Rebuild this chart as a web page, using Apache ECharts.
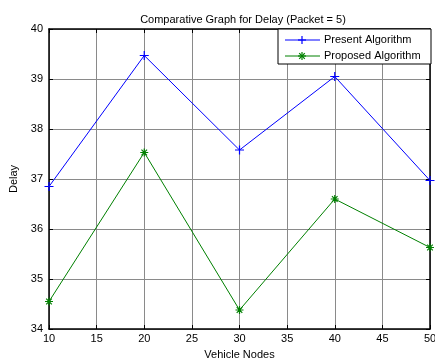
<!DOCTYPE html>
<html>
<head>
<meta charset="utf-8">
<script src="https://cdn.jsdelivr.net/npm/echarts@6/dist/echarts.min.js"></script>
<style>
html,body{margin:0;padding:0;background:#fff;}
#chart{width:435px;height:360px;}
</style>
</head>
<body>
<div id="chart"></div>
<script>
// Delay versus number of vehicle nodes, packet size 5
const vehicleNodes = [10, 20, 30, 40, 50];
const presentDelay = [36.85, 39.47, 37.58, 39.05, 36.97];
const proposedDelay = [34.55, 37.53, 34.38, 36.6, 35.63];
const xTicks = [10, 15, 20, 25, 30, 35, 40, 45, 50];
const yTicks = [34, 35, 36, 37, 38, 39, 40];
const seriesNames = ['Present Algorithm', 'Proposed Algorithm'];
const seriesColors = ['#0000ff', '#008000'];

const FONT = 'Liberation Sans, Arial, sans-serif';
const plusPath = 'path://M5,0L5,10M0,5L10,5';
const starPath = 'path://M5,0L5,10M0,5L10,5M1.5,1.5L8.5,8.5M8.5,1.5L1.5,8.5';

function pairs(xs, ys) { return xs.map((x, i) => [x, ys[i]]); }

const chart = echarts.init(document.getElementById('chart'), null, { renderer: 'canvas' });

const axisText = { color: '#000', fontFamily: FONT, fontSize: 11 };
const baseX = {
  type: 'value', min: xTicks[0], max: xTicks[xTicks.length - 1], interval: 5,
  axisLine: { show: true, onZero: false, lineStyle: { color: '#000', width: 1.5 } },
  axisTick: { show: true, inside: true, length: 4, lineStyle: { color: '#000' } }
};
const baseY = {
  type: 'value', min: yTicks[0], max: yTicks[yTicks.length - 1], interval: 1,
  axisLine: { show: true, onZero: false, lineStyle: { color: '#000', width: 1.5 } },
  axisTick: { show: true, inside: true, length: 4, lineStyle: { color: '#000' } }
};

// Stroke segments for the legend markers, centred on (cx, cy)
function markSegments(cx, cy, r, star) {
  const segs = [[cx, cy - r, cx, cy + r], [cx - r, cy, cx + r, cy]];
  if (star) {
    const d = r * 0.7;
    segs.push([cx - d, cy - d, cx + d, cy + d], [cx + d, cy - d, cx - d, cy + d]);
  }
  return segs;
}

// Boxed legend in the upper-right corner: short line with the series marker, then the name
function legendRow(i, y, star) {
  const color = seriesColors[i];
  const items = [
    { type: 'line', z: 20, shape: { x1: 285, y1: y, x2: 320, y2: y },
      style: { stroke: color, lineWidth: 1 } }
  ];
  markSegments(302, y, 4, star).forEach(s => items.push({
    type: 'line', z: 20, shape: { x1: s[0], y1: s[1], x2: s[2], y2: s[3] },
    style: { stroke: color, lineWidth: 1.2 }
  }));
  items.push({ type: 'text', z: 20, x: 324, y: y, style: { text: seriesNames[i], fill: '#000',
    font: '11px ' + FONT, verticalAlign: 'middle' } });
  return items;
}

chart.setOption({
  backgroundColor: '#fff',
  animation: false,
  title: {
    text: 'Comparative Graph for Delay (Packet = 5)',
    left: 238, top: 9, textAlign: 'center',
    textStyle: { fontFamily: FONT, fontSize: 11, fontWeight: 'normal', color: '#000' }
  },
  grid: { left: 49, right: 5, top: 29, bottom: 31, show: false, outerBoundsMode: 'none', containLabel: false },
  xAxis: [
    Object.assign({}, baseX, {
      position: 'bottom',
      name: 'Vehicle Nodes', nameLocation: 'middle', nameGap: 20,
      nameTextStyle: axisText,
      axisLabel: Object.assign({ margin: 4 }, axisText),
      splitLine: { show: true, lineStyle: { color: '#8a8a8a', width: 1 } }
    }),
    Object.assign({}, baseX, {
      position: 'top', axisLabel: { show: false }, splitLine: { show: false }
    })
  ],
  yAxis: [
    Object.assign({}, baseY, {
      position: 'left',
      name: 'Delay', nameLocation: 'middle', nameGap: 17,
      nameTextStyle: axisText,
      axisLabel: Object.assign({ margin: 6 }, axisText),
      splitLine: { show: true, lineStyle: { color: '#8a8a8a', width: 1 } }
    }),
    Object.assign({}, baseY, {
      position: 'right', axisLabel: { show: false }, splitLine: { show: false }
    })
  ],
  series: [
    {
      name: seriesNames[0], type: 'line',
      data: pairs(vehicleNodes, presentDelay),
      symbol: plusPath, symbolSize: 9,
      lineStyle: { color: seriesColors[0], width: 1 },
      itemStyle: { color: seriesColors[0], borderColor: seriesColors[0], borderWidth: 1.2 },
      emphasis: { disabled: true }
    },
    {
      name: seriesNames[1], type: 'line',
      data: pairs(vehicleNodes, proposedDelay),
      symbol: starPath, symbolSize: 8,
      lineStyle: { color: seriesColors[1], width: 1 },
      itemStyle: { color: seriesColors[1], borderColor: seriesColors[1], borderWidth: 1.2 },
      emphasis: { disabled: true }
    }
  ],
  graphic: [
    { type: 'rect', z: 10, shape: { x: 278, y: 29, width: 153, height: 35 },
      style: { fill: '#fff', stroke: '#000', lineWidth: 1 } }
  ].concat(legendRow(0, 40, false), legendRow(1, 56, true))
});
</script>
</body>
</html>
